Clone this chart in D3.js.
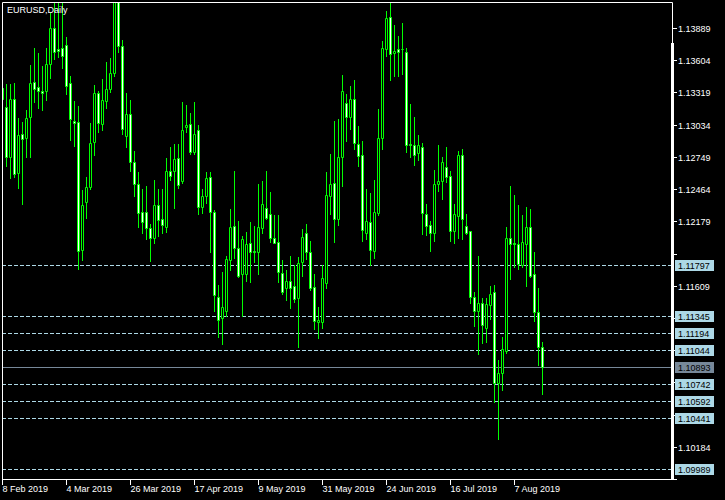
<!DOCTYPE html>
<html><head><meta charset="utf-8">
<script src="https://cdn.jsdelivr.net/npm/d3@7"></script>
<style>html,body{margin:0;padding:0;background:#000;overflow:hidden}</style>
</head><body>
<svg id="c" width="725" height="500"></svg>
<script>
const title = "EURUSD,Daily";
const dates = [
"2019-02-08","2019-02-11","2019-02-12","2019-02-13","2019-02-14","2019-02-15","2019-02-18","2019-02-19","2019-02-20","2019-02-21",
"2019-02-22","2019-02-25","2019-02-26","2019-02-27","2019-02-28","2019-03-01","2019-03-04","2019-03-05","2019-03-06","2019-03-07",
"2019-03-08","2019-03-11","2019-03-12","2019-03-13","2019-03-14","2019-03-15","2019-03-18","2019-03-19","2019-03-20","2019-03-21",
"2019-03-22","2019-03-25","2019-03-26","2019-03-27","2019-03-28","2019-03-29","2019-04-01","2019-04-02","2019-04-03","2019-04-04",
"2019-04-05","2019-04-08","2019-04-09","2019-04-10","2019-04-11","2019-04-12","2019-04-15","2019-04-16","2019-04-17","2019-04-18",
"2019-04-19","2019-04-22","2019-04-23","2019-04-24","2019-04-25","2019-04-26","2019-04-29","2019-04-30","2019-05-01","2019-05-02",
"2019-05-03","2019-05-06","2019-05-07","2019-05-08","2019-05-09","2019-05-10","2019-05-13","2019-05-14","2019-05-15","2019-05-16",
"2019-05-17","2019-05-20","2019-05-21","2019-05-22","2019-05-23","2019-05-24","2019-05-27","2019-05-28","2019-05-29","2019-05-30",
"2019-05-31","2019-06-03","2019-06-04","2019-06-05","2019-06-06","2019-06-07","2019-06-10","2019-06-11","2019-06-12","2019-06-13",
"2019-06-14","2019-06-17","2019-06-18","2019-06-19","2019-06-20","2019-06-21","2019-06-24","2019-06-25","2019-06-26","2019-06-27",
"2019-06-28","2019-07-01","2019-07-02","2019-07-03","2019-07-04","2019-07-05","2019-07-08","2019-07-09","2019-07-10","2019-07-11",
"2019-07-12","2019-07-15","2019-07-16","2019-07-17","2019-07-18","2019-07-19","2019-07-22","2019-07-23","2019-07-24","2019-07-25",
"2019-07-26","2019-07-29","2019-07-30","2019-07-31","2019-08-01","2019-08-02","2019-08-05","2019-08-06","2019-08-07","2019-08-08",
"2019-08-09","2019-08-12","2019-08-13","2019-08-14","2019-08-15","2019-08-16"];
const open = [
1.1336,1.1319,1.1275,1.1326,1.1261,1.1295,1.1292,1.1310,1.1341,1.1337,
1.1333,1.1333,1.1357,1.1389,1.1370,1.1371,1.1374,1.1340,1.1307,1.1306,
1.1193,1.1235,1.1248,1.1288,1.1331,1.1304,1.1324,1.1335,1.1349,1.1418,
1.1373,1.1293,1.1313,1.1270,1.1251,1.1226,1.1226,1.1212,1.1203,1.1232,
1.1220,1.1213,1.1262,1.1262,1.1274,1.1254,1.1301,1.1304,1.1279,1.1299,
1.1231,1.1240,1.1257,1.1226,1.1151,1.1132,1.1139,1.1184,1.1214,1.1194,
1.1171,1.1171,1.1199,1.1192,1.1191,1.1212,1.1230,1.1224,1.1203,1.1200,
1.1172,1.1159,1.1165,1.1161,1.1150,1.1182,1.1208,1.1191,1.1160,1.1129,
1.1129,1.1163,1.1240,1.1252,1.1220,1.1275,1.1323,1.1310,1.1326,1.1286,
1.1277,1.1208,1.1217,1.1192,1.1225,1.1292,1.1370,1.1399,1.1367,1.1370,
1.1370,1.1368,1.1286,1.1285,1.1278,1.1284,1.1224,1.1215,1.1208,1.1251,
1.1254,1.1266,1.1258,1.1209,1.1223,1.1277,1.1214,1.1209,1.1151,1.1139,
1.1146,1.1124,1.1144,1.1155,1.1075,1.1084,1.1103,1.1203,1.1199,1.1198,
1.1179,1.1198,1.1213,1.1171,1.1138,1.1107];
const high = [
1.1340,1.1340,1.1340,1.1341,1.1310,1.1306,1.1317,1.1357,1.1372,1.1367,
1.1356,1.1372,1.1403,1.1418,1.1418,1.1418,1.1381,1.1347,1.1325,1.1320,
1.1246,1.1258,1.1305,1.1339,1.1334,1.1344,1.1359,1.1363,1.1440,1.1440,
1.1379,1.1332,1.1326,1.1281,1.1262,1.1247,1.1250,1.1216,1.1255,1.1247,
1.1247,1.1274,1.1284,1.1287,1.1287,1.1324,1.1321,1.1314,1.1324,1.1304,
1.1247,1.1262,1.1262,1.1228,1.1162,1.1174,1.1188,1.1229,1.1263,1.1219,
1.1205,1.1209,1.1218,1.1214,1.1251,1.1254,1.1263,1.1244,1.1224,1.1224,
1.1184,1.1175,1.1188,1.1180,1.1187,1.1212,1.1216,1.1201,1.1172,1.1143,
1.1180,1.1262,1.1278,1.1307,1.1309,1.1348,1.1331,1.1338,1.1343,1.1303,
1.1289,1.1247,1.1243,1.1255,1.1318,1.1378,1.1404,1.1418,1.1392,1.1382,
1.1394,1.1372,1.1322,1.1311,1.1295,1.1288,1.1234,1.1219,1.1264,1.1286,
1.1275,1.1284,1.1263,1.1234,1.1281,1.1282,1.1225,1.1210,1.1156,1.1188,
1.1151,1.1151,1.1161,1.1162,1.1096,1.1116,1.1213,1.1250,1.1242,1.1233,
1.1224,1.1231,1.1229,1.1191,1.1159,1.1112];
const low = [
1.1321,1.1267,1.1257,1.1258,1.1248,1.1234,1.1275,1.1275,1.1324,1.1319,
1.1317,1.1326,1.1345,1.1362,1.1364,1.1354,1.1331,1.1290,1.1285,1.1176,
1.1184,1.1221,1.1247,1.1277,1.1297,1.1299,1.1319,1.1333,1.1347,1.1368,
1.1296,1.1284,1.1263,1.1241,1.1213,1.1208,1.1203,1.1183,1.1199,1.1205,
1.1208,1.1209,1.1255,1.1230,1.1248,1.1252,1.1297,1.1278,1.1278,1.1225,
1.1226,1.1235,1.1191,1.1139,1.1116,1.1110,1.1135,1.1175,1.1186,1.1169,
1.1135,1.1166,1.1165,1.1182,1.1172,1.1208,1.1220,1.1200,1.1199,1.1165,
1.1154,1.1149,1.1142,1.1147,1.1107,1.1170,1.1185,1.1158,1.1123,1.1115,
1.1124,1.1159,1.1225,1.1200,1.1215,1.1250,1.1289,1.1300,1.1282,1.1267,
1.1201,1.1203,1.1180,1.1186,1.1224,1.1282,1.1365,1.1343,1.1347,1.1347,
1.1349,1.1280,1.1275,1.1268,1.1273,1.1207,1.1206,1.1192,1.1201,1.1245,
1.1238,1.1253,1.1201,1.1199,1.1204,1.1203,1.1207,1.1146,1.1126,1.1101,
1.1111,1.1112,1.1132,1.1059,1.1026,1.1069,1.1102,1.1167,1.1178,1.1176,
1.1178,1.1161,1.1169,1.1130,1.1091,1.1066];
const close = [
1.1326,1.1275,1.1326,1.1260,1.1294,1.1291,1.1309,1.1340,1.1335,1.1333,
1.1331,1.1357,1.1389,1.1368,1.1369,1.1364,1.1338,1.1308,1.1305,1.1192,
1.1232,1.1248,1.1287,1.1331,1.1305,1.1325,1.1335,1.1349,1.1418,1.1373,
1.1300,1.1313,1.1270,1.1251,1.1225,1.1217,1.1212,1.1203,1.1232,1.1219,
1.1215,1.1262,1.1258,1.1273,1.1250,1.1299,1.1303,1.1279,1.1295,1.1231,
1.1240,1.1256,1.1226,1.1153,1.1131,1.1142,1.1185,1.1213,1.1194,1.1170,
1.1202,1.1198,1.1191,1.1191,1.1213,1.1233,1.1221,1.1203,1.1199,1.1173,
1.1155,1.1165,1.1159,1.1149,1.1181,1.1204,1.1191,1.1159,1.1130,1.1131,
1.1168,1.1241,1.1251,1.1220,1.1275,1.1333,1.1310,1.1326,1.1287,1.1276,
1.1210,1.1218,1.1193,1.1226,1.1292,1.1371,1.1398,1.1366,1.1369,1.1368,
1.1370,1.1285,1.1285,1.1277,1.1285,1.1225,1.1214,1.1208,1.1251,1.1254,
1.1270,1.1257,1.1209,1.1224,1.1277,1.1220,1.1208,1.1151,1.1139,1.1146,
1.1126,1.1145,1.1154,1.1075,1.1084,1.1105,1.1203,1.1198,1.1198,1.1180,
1.1200,1.1213,1.1170,1.1138,1.1107,1.1089];
const priceTicks = [1.13889,1.13604,1.13319,1.13034,1.12749,1.12464,1.12179,1.11894,1.11609,1.11324,1.11039,1.10754,1.10469,1.10184,1.09899];
const levelLines = [1.11797,1.11345,1.11194,1.11044,1.10742,1.10592,1.10441,1.09989];
const lastPrice = 1.10893;
const dateTickEvery = 16;

const W = 725, H = 500;
const FONT = "'Liberation Sans', Arial, sans-serif";
const svg = d3.select("#c");
svg.append("rect").attr("width", W).attr("height", H).attr("fill", "#000");

const x = d3.scaleLinear().domain([0, 1]).range([2.5, 6.5]);
const y = d3.scaleLinear().domain([1.09989, 1.13889]).range([469.5, 28.5]);
const ry = v => Math.round(y(v) - 0.5) + 0.5;

svg.append("defs").append("clipPath").attr("id", "clip")
  .append("rect").attr("x", 3).attr("y", 3).attr("width", 668).attr("height", 476);
const plot = svg.append("g").attr("clip-path", "url(#clip)");

// level lines
plot.selectAll("line.lvl").data(levelLines).join("line").attr("class", "lvl")
  .attr("x1", 2).attr("x2", 672).attr("y1", ry).attr("y2", ry)
  .attr("stroke", "#ADD8E6").attr("stroke-width", 1).attr("stroke-dasharray", "4,2");
plot.append("line").attr("x1", 2).attr("x2", 672).attr("y1", ry(lastPrice)).attr("y2", ry(lastPrice))
  .attr("stroke", "#778899").attr("stroke-width", 1);

// candles
const idx = d3.range(dates.length);
plot.selectAll("line.wick").data(idx).join("line").attr("class", "wick")
  .attr("x1", i => x(i)).attr("x2", i => x(i))
  .attr("y1", i => Math.round(y(high[i]))).attr("y2", i => Math.round(y(low[i])) + 1)
  .attr("stroke", "#00ff00").attr("stroke-width", 1);
plot.selectAll("path.body").data(idx).join("path").attr("class", "body")
  .attr("d", i => {
    const t = ry(Math.max(open[i], close[i]));
    const b = ry(Math.min(open[i], close[i]));
    return `M${x(i) - 1},${t}h2v${b - t}h-2z`;
  })
  .attr("fill", i => close[i] <= open[i] ? "#ffffff" : "#000000")
  .attr("stroke", "#00ff00").attr("stroke-width", 1);

// frame
const fr = svg.append("g").attr("stroke", "#fff").attr("stroke-width", 1).attr("fill", "none");
fr.append("path").attr("d", "M2.5,479.5V2.5H672.5V479.5H2.5");
svg.append("rect").attr("x", 671).attr("y", 43).attr("width", 3).attr("height", 436).attr("fill", "#fff");

// date axis
const dateTicks = idx.filter(i => i % dateTickEvery === 0);
const fmt = d3.timeFormat("%-d %b %Y");
const parse = d3.timeParse("%Y-%m-%d");
svg.selectAll("line.dt").data(dateTicks).join("line")
  .attr("x1", i => x(i)).attr("x2", i => x(i)).attr("y1", 479).attr("y2", 485)
  .attr("stroke", "#fff");
svg.selectAll("text.dt").data(dateTicks).join("text")
  .attr("x", i => x(i)).attr("y", 492)
  .attr("fill", "#fff").attr("font-family", FONT).attr("font-size", "9px")
  .text(i => fmt(parse(dates[i])));

// price axis (labels hidden under level boxes are not drawn, as in the reference)
const boxVals = levelLines.concat([lastPrice]);
const freeTicks = priceTicks.filter(v => boxVals.every(b => Math.abs(y(v) - y(b)) > 11));
svg.selectAll("line.pt").data(priceTicks).join("line")
  .attr("x1", 672).attr("x2", 677).attr("y1", ry).attr("y2", ry).attr("stroke", "#fff");
svg.selectAll("text.pt").data(freeTicks).join("text")
  .attr("x", 678).attr("y", v => ry(v) + 3.2)
  .attr("fill", "#fff").attr("font-family", FONT).attr("font-size", "9px")
  .text(v => v.toFixed(5));

// level boxes
const boxes = levelLines.map(v => ({v, bg: "#ADD8E6"})).concat([{v: lastPrice, bg: "#778899"}]);
const bg = svg.selectAll("g.box").data(boxes).join("g");
bg.append("rect").attr("x", 675).attr("y", d => ry(d.v) - 5.5).attr("width", 39).attr("height", 11)
  .attr("fill", d => d.bg);
bg.append("text").attr("x", 678).attr("y", d => ry(d.v) + 3.2)
  .attr("fill", "#000").attr("font-family", FONT).attr("font-size", "9px")
  .text(d => d.v.toFixed(5));

// title
svg.append("text").attr("x", 7).attr("y", 12.5).attr("fill", "#fff")
  .attr("font-family", FONT).attr("font-size", "9px").text(title);
</script>
</body></html>
